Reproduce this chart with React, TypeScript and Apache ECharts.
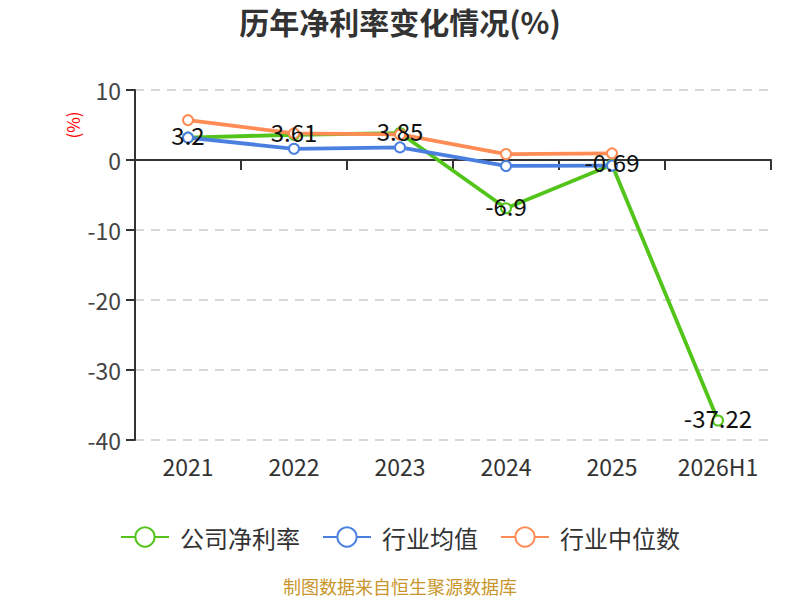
import React, { useEffect, useRef } from "react";
import * as echarts from "echarts";

const categories = ["2021", "2022", "2023", "2024", "2025", "2026H1"];
const companyRate = [3.2, 3.61, 3.85, -6.9, -0.69, -37.22];
const industryAvg = [3.2, 1.6, 1.8, -0.85, -0.8, null];
const industryMedian = [5.7, 3.8, 3.65, 0.85, 0.95, null];
const yTicks = { min: -40, max: 10, interval: 10 };

export default function App() {
  const ref = useRef<HTMLDivElement>(null);
  useEffect(() => {
    document.body.style.margin = "0";
    const chart = echarts.init(ref.current!, null, { renderer: "svg" });
    const font = "'Noto Sans CJK SC', 'Noto Sans', sans-serif";
    const mkSeries = (name: string, data: any[], color: string, label: boolean) => ({
      name,
      type: "line",
      data,
      xAxisIndex: 0,
      symbol: "emptyCircle",
      symbolSize: 10,
      lineStyle: { color, width: 3.8 },
      itemStyle: { color, borderWidth: 2 },
      label: label
        ? { show: true, position: "inside", offset: [0, -3], fontSize: 24, color: "#111", fontFamily: font }
        : { show: false },
    });
    chart.setOption({
      animation: false,
      textStyle: { fontFamily: font },
      title: {
        text: "历年净利率变化情况(%)",
        left: "center",
        top: 1,
        textStyle: { fontSize: 30, fontWeight: "bold", color: "#333", fontFamily: font },
      },
      grid: { left: 135, right: 29, top: 90, bottom: 160 },
      legend: {
        top: 520,
        left: "center",
        itemWidth: 48,
        itemHeight: 24,
        itemGap: 22,
        textStyle: { fontSize: 24, color: "#333", fontFamily: font, padding: [0, 0, 0, 6] },
        data: ["公司净利率", "行业均值", "行业中位数"],
      },
      graphic: [
        {
          type: "text",
          left: "center",
          top: 577,
          style: { text: "制图数据来自恒生聚源数据库", fontSize: 18, fill: "#c8962a", fontFamily: font },
        },
        {
          type: "text",
          x: 72,
          y: 125,
          rotation: Math.PI / 2,
          style: {
            text: "(%)",
            fontSize: 17,
            fill: "red",
            fontFamily: font,
            align: "center",
            verticalAlign: "middle",
          },
        },
      ],
      xAxis: [
        {
          type: "category",
          data: categories,
          boundaryGap: true,
          axisLine: { show: true, onZero: true, lineStyle: { color: "#333", width: 2 } },
          axisTick: { show: true, length: 10, lineStyle: { color: "#333", width: 2 } },
          axisLabel: { show: false },
          splitLine: { show: false },
        },
        {
          type: "category",
          data: categories,
          position: "bottom",
          boundaryGap: true,
          axisLine: { show: false, onZero: false },
          axisTick: { show: false },
          axisLabel: { show: true, fontSize: 23, color: "#333", margin: 14, fontFamily: font },
        },
      ],
      yAxis: {
        type: "value",
        min: yTicks.min,
        max: yTicks.max,
        interval: yTicks.interval,
        axisLine: { show: true, lineStyle: { color: "#333", width: 2 } },
        axisTick: { show: true, length: 9, lineStyle: { color: "#333", width: 2 } },
        axisLabel: { fontSize: 23, color: "#444", margin: 14, fontFamily: font },
        splitLine: { show: true, lineStyle: { color: "#ccc", type: [9, 7], width: 1.5 } },
      },
      series: [
        mkSeries("公司净利率", companyRate, "#52c41a", true),
        mkSeries("行业均值", industryAvg, "#4a7fe0", false),
        mkSeries("行业中位数", industryMedian, "#ff8c55", false),
      ],
    });
    return () => chart.dispose();
  }, []);
  return <div ref={ref} style={{ width: 800, height: 600 }} />;
}
